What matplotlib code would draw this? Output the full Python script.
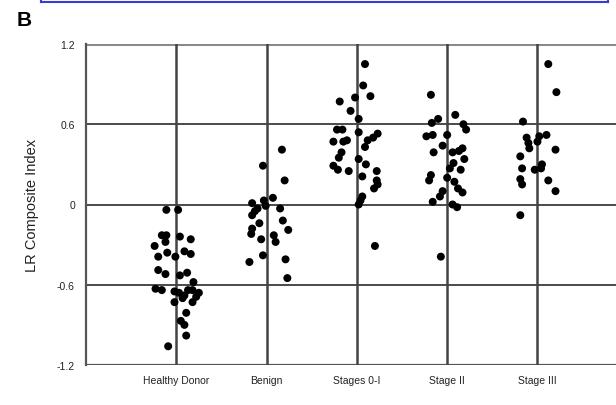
import matplotlib
matplotlib.use("Agg")
import matplotlib.pyplot as plt
from matplotlib.lines import Line2D

plt.rcParams['font.family'] = ['Liberation Sans', 'DejaVu Sans']

categories = ["Healthy Donor", "Benign", "Stages 0-I", "Stage II", "Stage III"]
yticks = [-1.2, -0.6, 0, 0.6, 1.2]
ytick_labels = ["-1.2", "-0.6", "0", "0.6", "1.2"]

# LR composite index per group, with horizontal jitter offsets (category units)
healthy_vals = [-0.04, -0.04, -0.23, -0.23, -0.28, -0.24, -0.26, -0.31, -0.36, -0.39,
                -0.35, -0.37, -0.39, -0.49, -0.52, -0.53, -0.51, -0.58, -0.63, -0.64,
                -0.65, -0.66, -0.68, -0.64, -0.64, -0.66, -0.69, -0.70, -0.73, -0.73,
                -0.81, -0.87, -0.90, -0.98, -1.06]
healthy_jit = [-0.11, 0.02, -0.16, -0.11, -0.12, 0.04, 0.16, -0.24, -0.10, -0.01,
               0.09, 0.16, -0.20, -0.20, -0.12, 0.04, 0.12, 0.19, -0.23, -0.16,
               -0.02, 0.03, 0.09, 0.13, 0.18, 0.25, 0.22, 0.07, -0.02, 0.18,
               0.11, 0.05, 0.09, 0.11, -0.09]

benign_vals = [0.41, 0.29, 0.18, 0.05, 0.03, 0.01, -0.03, -0.01, -0.03, -0.08,
               -0.05, -0.12, -0.14, -0.18, -0.19, -0.22, -0.26, -0.23, -0.28, -0.38,
               -0.43, -0.41, -0.55]
benign_jit = [0.17, -0.04, 0.20, 0.07, -0.03, -0.16, -0.10, -0.01, 0.15, -0.16,
              -0.13, 0.18, -0.08, -0.16, 0.24, -0.17, -0.06, 0.08, 0.10, -0.04,
              -0.19, 0.21, 0.23]

stage01_vals = [1.05, 0.89, 0.80, 0.81, 0.77, 0.70, 0.64, 0.56, 0.56, 0.54,
                0.53, 0.50, 0.48, 0.47, 0.47, 0.48, 0.43, 0.39, 0.35, 0.34,
                0.30, 0.29, 0.26, 0.25, 0.25, 0.21, 0.18, 0.15, 0.12, 0.06,
                0.03, 0.00, -0.31]
stage01_jit = [0.09, 0.07, -0.02, 0.15, -0.19, -0.07, 0.02, -0.22, -0.16, 0.02,
               0.23, 0.18, 0.12, -0.26, -0.15, -0.11, 0.09, -0.17, -0.20, 0.02,
               0.10, -0.26, -0.21, -0.09, 0.22, 0.06, 0.22, 0.23, 0.19, 0.06,
               0.04, 0.02, 0.20]

stage2_vals = [0.82, 0.67, 0.64, 0.61, 0.60, 0.56, 0.51, 0.52, 0.52, 0.44,
               0.39, 0.42, 0.40, 0.39, 0.34, 0.31, 0.27, 0.26, 0.22, 0.18,
               0.20, 0.17, 0.12, 0.09, 0.10, 0.06, 0.02, 0.00, -0.02, -0.39]
stage2_jit = [-0.18, 0.09, -0.10, -0.17, 0.18, 0.21, -0.23, -0.16, 0.00, -0.05,
              -0.15, 0.17, 0.13, 0.06, 0.19, 0.07, 0.03, 0.15, -0.18, -0.20,
              0.00, 0.08, 0.12, 0.17, -0.05, -0.08, -0.16, 0.06, 0.11, -0.07]

stage3_vals = [1.05, 0.84, 0.62, 0.52, 0.50, 0.51, 0.47, 0.46, 0.42, 0.41,
               0.36, 0.27, 0.30, 0.27, 0.26, 0.19, 0.15, 0.18, 0.10, -0.08]
stage3_jit = [0.12, 0.21, -0.16, 0.10, -0.12, 0.02, 0.00, -0.10, -0.09, 0.20,
              -0.19, -0.17, 0.05, 0.04, -0.03, -0.19, -0.17, 0.12, 0.20, -0.19]

groups = [(healthy_vals, healthy_jit), (benign_vals, benign_jit),
          (stage01_vals, stage01_jit), (stage2_vals, stage2_jit),
          (stage3_vals, stage3_jit)]

fig = plt.figure(figsize=(6.16, 4.06), dpi=100)
ax = fig.add_axes([86 / 616, 40 / 406, 1 - 86 / 616, 321 / 406])

grid_color = "#3c3c3c"
for y in [-0.6, 0, 0.6]:
    ax.axhline(y, color=grid_color, lw=1.3, zorder=1)
ax.axhline(1.2, color="#8a8a8a", lw=2.2, zorder=1)
ax.axhline(-1.2, color="#555555", lw=1.6, zorder=1)
for i in range(len(categories)):
    ax.axvline(i + 1, color="#444444", lw=1.8, zorder=1)

for i, (vals, jit) in enumerate(groups):
    xs = [i + 1 + j for j in jit]
    ax.scatter(xs, vals, s=33, color="black", edgecolors="none", zorder=3)

ax.set_xlim(0, 5.87)
ax.set_ylim(-1.2, 1.2)
for side in ["top", "right", "bottom"]:
    ax.spines[side].set_visible(False)
ax.spines["left"].set_color("#555555")
ax.spines["left"].set_linewidth(1.6)

ax.set_yticks(yticks)
ax.set_yticklabels(ytick_labels, fontsize=7.5, color="#222222")
ax.set_xticks(range(1, len(categories) + 1))
ax.set_xticklabels(categories, fontsize=7.5, color="#222222")
ax.tick_params(axis="y", length=0, pad=8)
ax.tick_params(axis="x", length=0, pad=7)
ax.set_ylabel("LR Composite Index", fontsize=10.5, color="#222222", labelpad=13)

fig.text(17 / 616, 1 - 21 / 406, "B", fontsize=15, fontweight="bold",
         va="center", ha="left", color="black")

# frame of the panel above
box_color = "#3a3ad6"
x0, x1 = 41 / 616, 608 / 616
yb = 1 - 2.5 / 406
fig.add_artist(Line2D([x0, x1], [yb, yb], transform=fig.transFigure, color=box_color, lw=1.5))
fig.add_artist(Line2D([x0, x0], [yb, 1.0], transform=fig.transFigure, color=box_color, lw=1.5))
fig.add_artist(Line2D([x1, x1], [yb, 1.0], transform=fig.transFigure, color=box_color, lw=1.5))

fig.savefig("out.png", dpi=100)
